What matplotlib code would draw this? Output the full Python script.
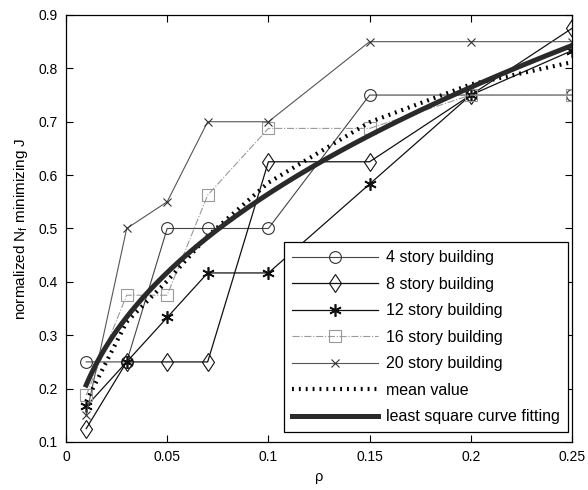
import numpy as np
import matplotlib
matplotlib.use("Agg")
import matplotlib.pyplot as plt

plt.rcParams['font.family'] = ['Liberation Sans', 'DejaVu Sans']
plt.rcParams['mathtext.default'] = 'regular'

# p values and normalized N_f for each building
P = [0.01, 0.03, 0.05, 0.07, 0.1, 0.15, 0.2, 0.25]
story_4 = [0.25, 0.25, 0.5, 0.5, 0.5, 0.75, 0.75, 0.75]
story_8 = [0.125, 0.25, 0.25, 0.25, 0.625, 0.625, 0.75, 0.875]
story_12 = [0.1667, 0.25, 0.3333, 0.4167, 0.4167, 0.5833, 0.75, 0.8333]
story_16 = [0.1875, 0.375, 0.375, 0.5625, 0.6875, 0.6875, 0.75, 0.75]
story_20 = [0.15, 0.5, 0.55, 0.7, 0.7, 0.85, 0.85, 0.85]
# curve fitting values at each p
fit_read = [0.207, 0.335, 0.417, 0.48, 0.565, 0.675, 0.765, 0.845]

labels = ['4 story building', '8 story building', '12 story building',
          '16 story building', '20 story building', 'mean value',
          'least square curve fitting']

p = np.array(P)
mean_val = np.mean([story_4, story_8, story_12, story_16, story_20], axis=0)

# power law fit through the read values
b, ln_a = np.polyfit(np.log(p), np.log(fit_read), 1)
p_fine = np.linspace(p.min(), p.max(), 200)
fit_curve = np.exp(ln_a) * p_fine ** b

fig = plt.figure(figsize=(5.88, 4.9), dpi=100)
ax = fig.add_axes([0.1122, 0.098, 0.8606, 0.8714])

asterisk = (6, 2, 0)
ax.plot(p, story_4, color='#444444', lw=0.8, marker='o', ms=8.5,
        mfc='none', mec='#333333', mew=0.8, label=labels[0])
ax.plot(p, story_8, color='#111111', lw=0.9, marker='d', ms=9.5,
        mfc='none', mec='#111111', mew=0.8, label=labels[1])
ax.plot(p, story_12, color='#111111', lw=0.9, marker=asterisk, ms=9,
        mec='#111111', mew=1.2, label=labels[2])
ax.plot(p, story_16, color='#9a9a9a', lw=0.8, ls='-.', marker='s', ms=8,
        mfc='none', mec='#999999', mew=0.8, label=labels[3])
ax.plot(p, story_20, color='#555555', lw=0.8, marker='x', ms=5.5,
        mec='#333333', mew=0.8, label=labels[4])
ax.plot(p, mean_val, color='black', lw=3.0, dashes=(0.45, 1.2),
        dash_capstyle='butt', label=labels[5])
ax.plot(p_fine, fit_curve, color='#2a2a2a', lw=3.6, label=labels[6])

ax.set_xlim(0, 0.25)
ax.set_ylim(0.1, 0.9)
ax.set_xticks([0, 0.05, 0.1, 0.15, 0.2, 0.25])
ax.set_xticklabels(['0', '0.05', '0.1', '0.15', '0.2', '0.25'])
ax.set_yticks(np.arange(0.1, 0.91, 0.1))
ax.set_yticklabels(['0.1', '0.2', '0.3', '0.4', '0.5', '0.6', '0.7', '0.8', '0.9'])
ax.tick_params(direction='in', top=True, right=True, length=5, width=0.8,
               labelsize=10, pad=6)
for s in ax.spines.values():
    s.set_linewidth(0.9)

ax.set_xlabel('ρ', fontsize=10.5, labelpad=4)
ax.set_ylabel('normalized N$_f$ minimizing J', fontsize=11, labelpad=6)

leg = ax.legend(loc='lower right', bbox_to_anchor=(0.992, 0.023),
                borderaxespad=0, fontsize=11.5, handlelength=5.4,
                labelspacing=0.72, fancybox=False, framealpha=1,
                edgecolor='black', borderpad=0.5, handletextpad=0.5)
leg.get_frame().set_linewidth(0.9)

fig.savefig('out.png', dpi=100)
